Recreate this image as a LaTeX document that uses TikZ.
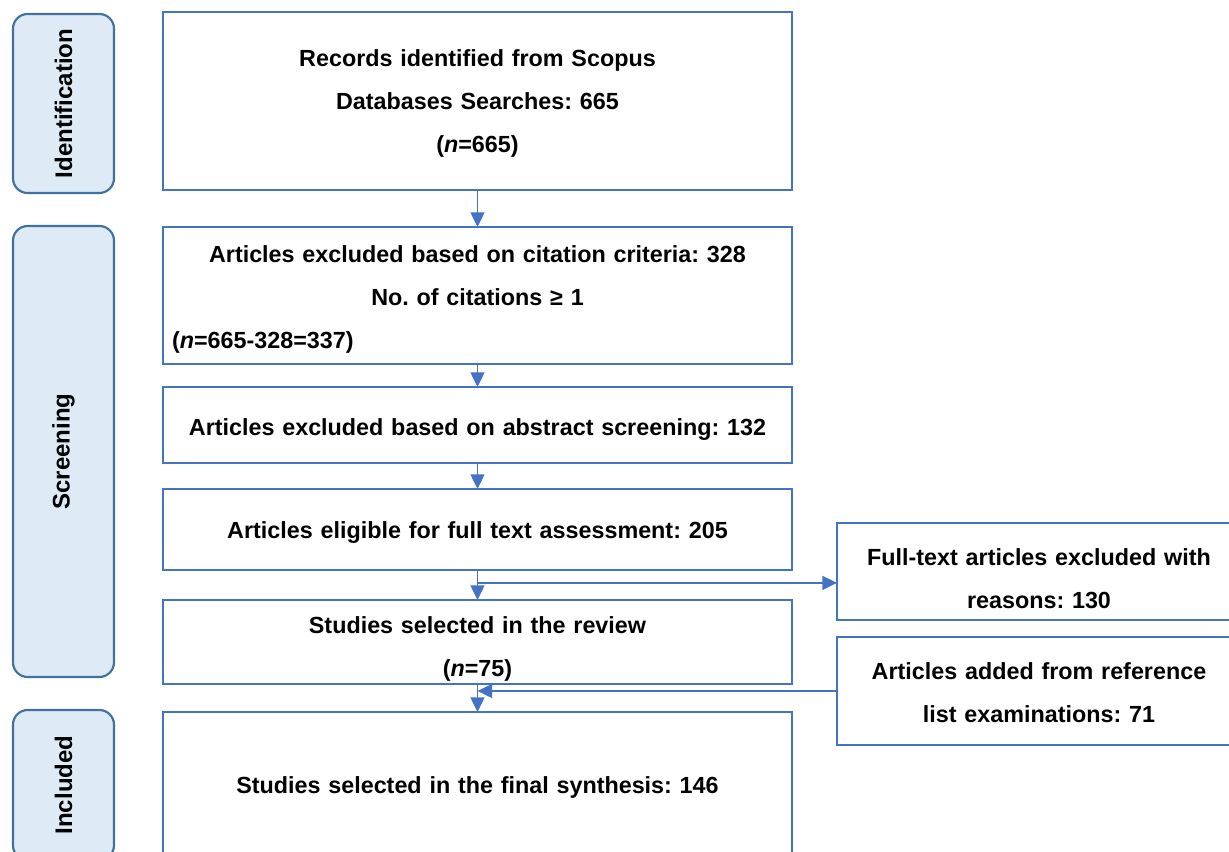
\documentclass[tikz,border=0pt]{standalone}
\usepackage{fontspec}
\setmainfont{Liberation Sans}
\usetikzlibrary{positioning, arrows.meta, calc}

\definecolor{boxblue}{HTML}{4472C4}
\definecolor{stageblue}{HTML}{41719C}
\definecolor{stagefill}{HTML}{DEEAF6}

\frenchspacing

\begin{document}
\begin{tikzpicture}[
		x=0.75pt, y=-0.75pt,
		>={Triangle[length=11pt, width=10.5pt]},
		node distance=20pt,
		stage/.style={draw=stageblue, line width=1.6pt, fill=stagefill, rounded corners=11pt, rotate=90, minimum height=75.75pt, inner sep=0pt, font=\fontsize{18pt}{22pt}\selectfont\bfseries},
		record/.style={draw=boxblue, line width=1.6pt, outer sep=0pt, text width=458.25pt, minimum width=471.75pt, inner xsep=6.75pt, inner ysep=2pt, align=center, font=\fontsize{17.5pt}{32.25pt}\selectfont\bfseries},
		side/.style={draw=boxblue, line width=1.6pt, outer sep=0pt, text width=290pt, minimum width=303pt, inner xsep=6.5pt, inner ysep=2pt, align=center, font=\fontsize{17.5pt}{32.25pt}\selectfont\bfseries},
		flow/.style={->, draw=boxblue, line width=1pt}
		]
		\useasboundingbox (0,0) rectangle (1229,852);
		
		% ==========================================
		% STAGES
		% ==========================================
		\node[stage, minimum width=134.25pt] (Ident) at (63.5,103.5) {Identification};
		\node[stage, minimum width=338.25pt] (Screen) at (63.5,451.5) {Screening};
		\node[stage, minimum width=112.5pt] (Incl) at (63.5,785) {Included};
		
		% ==========================================
		% MAIN COLUMN
		% ==========================================
		\node[record, minimum height=133.5pt, text height=17pt] (Records) at (477.5,101) {
			Records identified from Scopus \\
			Databases Searches: 665 \\
			(\textit{n}=665)
		};
		
		\node[record, minimum height=102.75pt, text height=18pt, below=27.75pt of Records] (Citation) {
			Articles excluded based on citation criteria: 328 \\
			No. of citations ≥ 1 \\
			\makebox[\linewidth][l]{(\textit{n}=665-328=337)}
		};
		
		\node[record, minimum height=57pt, text height=20pt, below=17.25pt of Citation] (Abstract) {
			Articles excluded based on abstract screening: 132
		};
		
		\node[record, minimum height=60.75pt, text height=17.3pt, below=19.5pt of Abstract] (Eligible) {
			Articles eligible for full text assessment: 205
		};
		
		\node[record, minimum height=63pt, text height=23pt, below=22.5pt of Eligible] (Review) {
			Studies selected in the review \\
			(\textit{n}=75)
		};
		
		\node[record, minimum height=109.5pt, text height=16pt, below=21pt of Review] (Final) {
			Studies selected in the final synthesis: 146
		};
		
		% ==========================================
		% SIDE BOXES
		% ==========================================
		\node[side, minimum height=72.75pt, text height=23pt] (Excluded) at (1039,571.5) {
			Full-text articles excluded with \\
			reasons: 130
		};
		
		\node[side, minimum height=81pt, text height=15.5pt] (Added) at (1039,691) {
			Articles added from reference \\
			list examinations: 71
		};
		
		% ==========================================
		% CONNECTORS
		% ==========================================
		\draw[flow] (Records) -- (Citation);
		\draw[flow] (Citation) -- (Abstract);
		\draw[flow] (Abstract) -- (Eligible);
		\draw[flow] (Eligible) -- (Review);
		\draw[flow] (Review) -- (Final);
		
		\coordinate (fork) at ($(Eligible.south)!0.43!(Review.north)$);
		\draw[flow] (fork) -- (Excluded.west |- fork);
		\draw[flow] (Added.west) -- (Review.south |- Added.west);
		
	\end{tikzpicture}
\end{document}
